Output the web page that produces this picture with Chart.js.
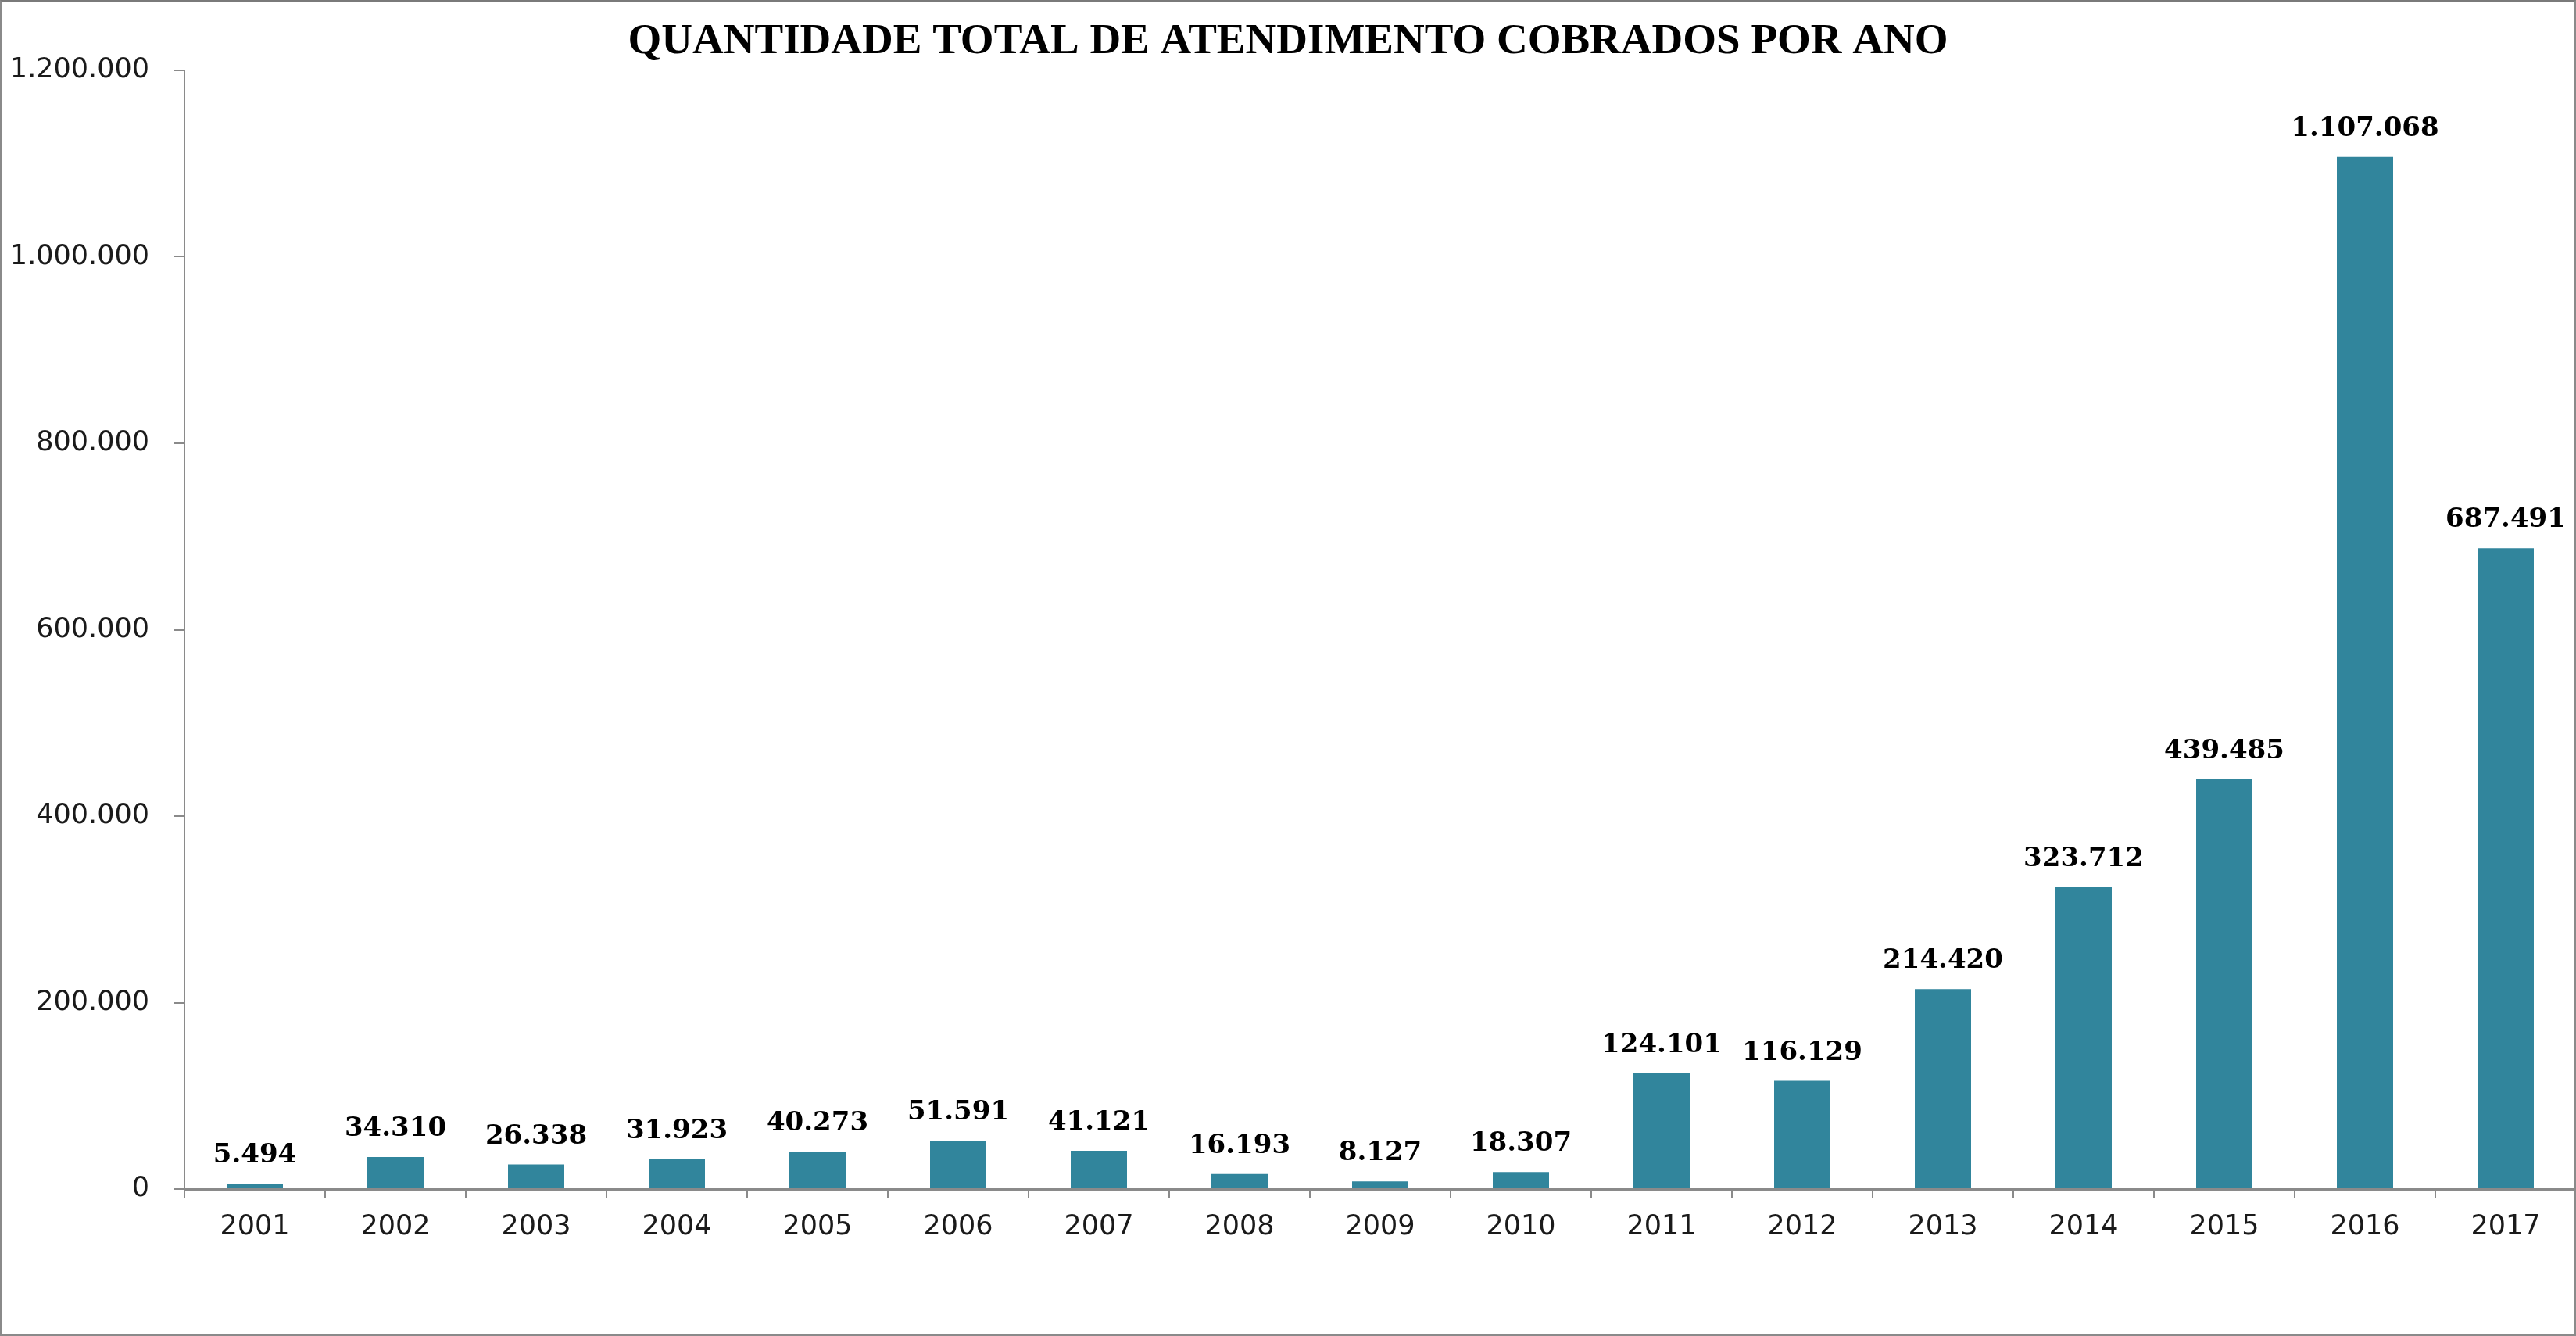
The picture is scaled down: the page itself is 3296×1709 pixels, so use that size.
<!DOCTYPE html>
<html>
<head>
<meta charset="utf-8">
<script src="https://cdn.jsdelivr.net/npm/chart.js@4/dist/chart.umd.min.js"></script>
<style>
  html, body { margin: 0; padding: 0; background: #fff; }
  #wrap { position: relative; width: 3296px; height: 1709px; }
  #frame {
    position: absolute; left: 0; top: 0; right: 0; bottom: 0;
    border: 3px solid #8a8a8a; border-top-color: #7a7a7a;
    pointer-events: none; box-sizing: border-box;
  }
</style>
</head>
<body>
<div id="wrap">
  <canvas id="barChart"></canvas>
  <div id="frame"></div>
</div>
<script>
// anos (eixo x) e quantidade de atendimentos cobrados
const years = ['2001', '2002', '2003', '2004', '2005', '2006', '2007', '2008', '2009',
               '2010', '2011', '2012', '2013', '2014', '2015', '2016', '2017'];
const totals = [5494, 34310, 26338, 31923, 40273, 51591, 41121, 16193, 8127,
                18307, 124101, 116129, 214420, 323712, 439485, 1107068, 687491];
const yTicks = [0, 200000, 400000, 600000, 800000, 1000000, 1200000];

// 1234567 -> "1.234.567"
function fmt(n) {
  return String(n).replace(/\B(?=(\d{3})+(?!\d))/g, '.');
}

// labels above each bar
const barLabels = {
  id: 'barLabels',
  afterDatasetsDraw(chart) {
    const ctx = chart.ctx;
    const meta = chart.getDatasetMeta(0);
    ctx.save();
    ctx.font = 'bold 34px "DejaVu Serif"';
    ctx.fillStyle = '#000';
    ctx.textAlign = 'center';
    ctx.textBaseline = 'alphabetic';
    meta.data.forEach((bar, i) => {
      ctx.fillText(fmt(totals[i]), bar.x, bar.y - 27);
    });
    ctx.restore();
  }
};

const myChart = new Chart(document.getElementById('barChart'), {
  type: 'bar',
  data: {
    labels: years,
    datasets: [{
      data: totals,
      backgroundColor: '#31859C',
      borderWidth: 0,
      categoryPercentage: 1.0,
      barPercentage: 0.4
    }]
  },
  options: {
    responsive: true,
    maintainAspectRatio: false,
    animation: false,
    layout: { padding: { left: 0, right: 0, top: 0, bottom: 102 } },
    scales: {
      x: {
        grid: {
          display: true,
          drawOnChartArea: false,
          drawTicks: true,
          tickLength: 12,
          color: '#8a8a8a',
          lineWidth: 2
        },
        border: { color: '#8a8a8a', width: 3 },
        ticks: {
          font: { family: '"DejaVu Sans"', size: 35 },
          color: '#1a1a1a',
          padding: 16
        }
      },
      y: {
        min: 0,
        max: 1200000,
        afterFit(scale) { scale.width = 236; },
        afterBuildTicks(scale) { scale.ticks = yTicks.map(v => ({ value: v })); },
        grid: {
          display: true,
          drawOnChartArea: false,
          drawTicks: true,
          tickLength: 14,
          color: '#8a8a8a',
          lineWidth: 2
        },
        border: { color: '#8a8a8a', width: 2 },
        ticks: {
          font: { family: '"DejaVu Sans"', size: 35 },
          color: '#1a1a1a',
          padding: 31,
          callback: (v) => fmt(v)
        }
      }
    },
    plugins: {
      legend: { display: false },
      tooltip: { enabled: false },
      title: {
        display: true,
        text: 'QUANTIDADE TOTAL DE ATENDIMENTO COBRADOS POR ANO',
        font: { family: '"Liberation Serif"', size: 55, weight: 'bold' },
        color: '#000',
        padding: { top: 21, bottom: 3 }
      }
    }
  },
  plugins: [barLabels]
});
</script>
</body>
</html>
